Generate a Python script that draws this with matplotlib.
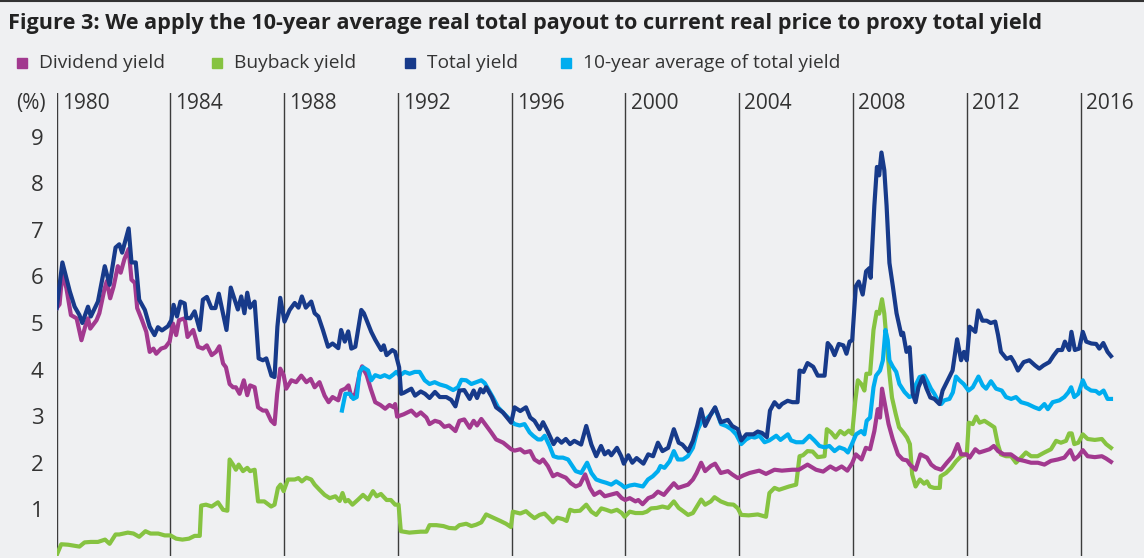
import matplotlib
matplotlib.use("Agg")
import matplotlib.pyplot as plt
from matplotlib.lines import Line2D

# ---- data ----
tot_yr = [1980.0, 1980.2, 1980.46, 1980.63, 1980.8, 1980.9, 1981.1, 1981.2, 1981.45, 1981.69,
          1981.86, 1982.07, 1982.2, 1982.3, 1982.53, 1982.63, 1982.78, 1982.9, 1983.1, 1983.27,
          1983.44, 1983.56, 1983.7, 1983.91, 1984.03, 1984.11, 1984.23, 1984.35, 1984.5, 1984.56,
          1984.7, 1984.85, 1985.03, 1985.14, 1985.28, 1985.44, 1985.58, 1985.7, 1985.97, 1986.12,
          1986.26, 1986.37, 1986.49, 1986.6, 1986.7, 1986.8, 1986.96, 1987.1, 1987.25, 1987.37,
          1987.55, 1987.66, 1987.76, 1987.86, 1988.01, 1988.19, 1988.37, 1988.5, 1988.62, 1988.76,
          1988.95, 1989.07, 1989.2, 1989.36, 1989.54, 1989.7, 1989.9, 1990.0, 1990.13, 1990.25,
          1990.36, 1990.5, 1990.71, 1990.8, 1991.06, 1991.2, 1991.41, 1991.5, 1991.6, 1991.8,
          1991.9, 1992.04, 1992.11, 1992.2, 1992.47, 1992.6, 1992.8, 1992.95, 1993.11, 1993.3,
          1993.47, 1993.7, 1993.87, 1994.02, 1994.16, 1994.33, 1994.52, 1994.66, 1994.78, 1994.9,
          1995.0, 1995.1, 1995.3, 1995.45, 1995.69, 1995.98, 1996.1, 1996.3, 1996.5, 1996.65,
          1996.8, 1996.98, 1997.1, 1997.25, 1997.47, 1997.6, 1997.75, 1997.9, 1998.05, 1998.2,
          1998.44, 1998.62, 1998.8, 1998.97, 1999.14, 1999.27, 1999.4, 1999.5, 1999.7, 1999.85,
          1999.94, 2000.1, 2000.24, 2000.39, 2000.63, 2000.8, 2000.97, 2001.14, 2001.3, 2001.5,
          2001.7, 2001.87, 2002.0, 2002.2, 2002.37, 2002.52, 2002.66, 2002.8, 2003.0, 2003.15,
          2003.35, 2003.6, 2003.75, 2003.95, 2004.07, 2004.25, 2004.5, 2004.65, 2004.8, 2004.97,
          2005.08, 2005.24, 2005.4, 2005.5, 2005.7, 2005.87, 2006.05, 2006.12, 2006.26, 2006.4,
          2006.6, 2006.76, 2007.0, 2007.11, 2007.23, 2007.35, 2007.5, 2007.66, 2007.77, 2007.88,
          2007.97, 2008.1, 2008.2, 2008.34, 2008.46, 2008.58, 2008.62, 2008.75, 2008.84, 2008.92,
          2009.0, 2009.1, 2009.18, 2009.28, 2009.4, 2009.53, 2009.7, 2009.76, 2009.88, 2009.99,
          2010.1, 2010.2, 2010.3, 2010.45, 2010.58, 2010.72, 2010.86, 2011.04, 2011.15, 2011.33,
          2011.5, 2011.66, 2011.8, 2011.9, 2012.0, 2012.1, 2012.3, 2012.4, 2012.55, 2012.7,
          2012.84, 2013.0, 2013.1, 2013.2, 2013.4, 2013.55, 2013.66, 2013.8, 2014.0, 2014.2,
          2014.4, 2014.55, 2014.7, 2014.9, 2015.05, 2015.2, 2015.35, 2015.45, 2015.6, 2015.68,
          2015.8, 2015.95, 2016.08, 2016.2, 2016.38, 2016.55, 2016.66, 2016.8, 2016.95, 2017.07]
tot_val = [5.32, 6.30, 5.68, 5.35, 5.17, 5.00, 5.35, 5.14, 5.46, 6.22,
           5.82, 6.62, 6.69, 6.51, 7.03, 6.30, 6.30, 5.50, 5.28, 4.92,
           4.74, 4.91, 4.84, 4.93, 5.06, 5.39, 5.14, 5.46, 5.42, 5.11,
           5.10, 5.25, 4.85, 5.50, 5.56, 5.32, 5.32, 5.63, 4.85, 5.76,
           5.50, 5.29, 5.57, 5.21, 5.65, 5.33, 5.46, 4.24, 4.20, 4.24,
           3.87, 3.84, 4.92, 5.54, 5.03, 5.28, 5.43, 5.33, 5.57, 5.33,
           5.46, 5.21, 5.14, 4.85, 4.49, 4.56, 4.46, 4.85, 4.60, 4.82,
           4.45, 4.49, 5.28, 5.21, 4.81, 4.64, 4.42, 4.52, 4.31, 4.42,
           4.38, 4.05, 3.48, 3.50, 3.59, 3.44, 3.53, 3.48, 3.39, 3.52,
           3.41, 3.41, 3.35, 3.21, 3.55, 3.56, 3.37, 3.55, 3.39, 3.58,
           3.51, 3.62, 3.41, 3.19, 3.08, 2.86, 3.19, 3.11, 3.19, 2.97,
           2.90, 2.72, 2.87, 2.69, 2.40, 2.52, 2.43, 2.51, 2.40, 2.47,
           2.39, 2.79, 2.39, 2.14, 2.36, 2.18, 2.25, 2.16, 2.32, 2.14,
           1.98, 2.16, 2.00, 2.10, 1.98, 2.18, 2.14, 2.43, 2.25, 2.32,
           2.72, 2.43, 2.39, 2.25, 2.47, 2.79, 3.15, 2.79, 3.04, 3.19,
           2.87, 2.92, 2.79, 2.72, 2.48, 2.61, 2.61, 2.67, 2.64, 2.55,
           3.12, 3.30, 3.19, 3.26, 3.33, 3.30, 3.30, 3.98, 3.95, 4.14,
           4.06, 3.87, 3.87, 4.57, 4.48, 4.31, 4.55, 4.52, 4.34, 4.60,
           4.63, 5.79, 5.89, 5.61, 6.11, 6.18, 5.97, 7.52, 8.35, 8.17,
           8.66, 8.28, 7.52, 6.29, 5.79, 5.21, 4.74, 4.79, 4.38, 4.48,
           3.48, 3.30, 3.62, 3.84, 3.60, 3.40, 3.37, 3.26, 3.55, 3.77,
           3.98, 4.65, 4.20, 4.38, 4.20, 4.92, 4.81, 5.27, 5.05, 5.05,
           5.00, 5.03, 4.74, 4.38, 4.23, 4.27, 4.16, 3.98, 4.16, 4.20,
           4.09, 4.02, 4.09, 4.16, 4.30, 4.42, 4.42, 4.60, 4.42, 4.81,
           4.42, 4.45, 4.81, 4.60, 4.56, 4.55, 4.45, 4.57, 4.38, 4.29]

div_yr = [1980.0, 1980.1, 1980.2, 1980.34, 1980.5, 1980.7, 1980.87, 1981.0, 1981.1, 1981.18,
          1981.4, 1981.5, 1981.67, 1981.76, 1981.88, 1982.0, 1982.15, 1982.25, 1982.38, 1982.53,
          1982.63, 1982.75, 1982.83, 1983.0, 1983.15, 1983.27, 1983.4, 1983.5, 1983.67, 1983.82,
          1983.97, 1984.09, 1984.2, 1984.3, 1984.5, 1984.6, 1984.8, 1984.97, 1985.14, 1985.28,
          1985.45, 1985.6, 1985.72, 1985.85, 1985.95, 1986.08, 1986.2, 1986.3, 1986.43, 1986.58,
          1986.7, 1986.8, 1986.96, 1987.08, 1987.25, 1987.37, 1987.54, 1987.66, 1987.75, 1987.86,
          1987.98, 1988.07, 1988.25, 1988.42, 1988.6, 1988.78, 1988.93, 1989.07, 1989.24, 1989.42,
          1989.56, 1989.7, 1989.9, 1990.0, 1990.15, 1990.26, 1990.36, 1990.5, 1990.65, 1990.74,
          1990.9, 1991.04, 1991.2, 1991.38, 1991.55, 1991.7, 1991.85, 1991.9, 1991.97, 1992.2,
          1992.47, 1992.65, 1992.8, 1993.0, 1993.11, 1993.3, 1993.47, 1993.63, 1993.8, 1994.02,
          1994.16, 1994.33, 1994.52, 1994.66, 1994.78, 1994.93, 1995.1, 1995.28, 1995.45, 1995.7,
          1995.98, 1996.1, 1996.3, 1996.45, 1996.65, 1996.8, 1996.98, 1997.1, 1997.27, 1997.45,
          1997.6, 1997.78, 1997.9, 1998.08, 1998.25, 1998.4, 1998.58, 1998.75, 1998.9, 1999.1,
          1999.27, 1999.45, 1999.7, 1999.87, 1999.99, 2000.15, 2000.35, 2000.45, 2000.6, 2000.8,
          2000.97, 2001.14, 2001.35, 2001.5, 2001.7, 2001.85, 2002.0, 2002.2, 2002.37, 2002.5,
          2002.66, 2002.8, 2003.0, 2003.15, 2003.35, 2003.6, 2003.75, 2003.95, 2004.15, 2004.36,
          2004.7, 2004.94, 2005.24, 2005.5, 2005.87, 2006.1, 2006.4, 2006.7, 2006.95, 2007.2,
          2007.4, 2007.6, 2007.8, 2007.97, 2008.1, 2008.3, 2008.45, 2008.6, 2008.75, 2008.87,
          2008.95, 2009.02, 2009.12, 2009.25, 2009.4, 2009.58, 2009.75, 2009.9, 2010.0, 2010.2,
          2010.37, 2010.5, 2010.6, 2010.75, 2010.9, 2011.1, 2011.3, 2011.5, 2011.68, 2011.8,
          2012.0, 2012.1, 2012.3, 2012.44, 2012.6, 2012.8, 2012.95, 2013.1, 2013.3, 2013.55,
          2013.8, 2014.02, 2014.26, 2014.5, 2014.73, 2014.96, 2015.2, 2015.43, 2015.64, 2015.78,
          2015.92, 2016.08, 2016.25, 2016.5, 2016.75, 2016.9, 2017.07]
div_val = [5.32, 5.40, 6.08, 5.75, 5.17, 5.10, 4.63, 4.92, 5.10, 4.88,
           5.06, 5.21, 5.70, 5.90, 5.53, 5.78, 6.22, 6.08, 6.37, 6.59,
           5.93, 5.86, 5.32, 5.06, 4.81, 4.38, 4.45, 4.34, 4.45, 4.48,
           4.60, 4.99, 4.74, 5.06, 5.10, 4.70, 4.85, 4.49, 4.45, 4.52,
           4.31, 4.38, 4.50, 4.13, 4.05, 3.69, 3.62, 3.62, 3.48, 3.77,
           3.45, 3.66, 3.62, 3.19, 3.12, 3.12, 2.90, 2.83, 3.48, 4.02,
           3.88, 3.59, 3.77, 3.73, 3.87, 3.73, 3.80, 3.62, 3.73, 3.44,
           3.30, 3.41, 3.34, 3.55, 3.59, 3.66, 3.41, 3.48, 3.91, 4.07,
           3.88, 3.59, 3.30, 3.24, 3.16, 3.24, 3.19, 3.26, 2.99, 3.04,
           3.12, 3.01, 3.08, 2.97, 2.83, 2.90, 2.87, 2.77, 2.80, 2.68,
           2.90, 2.93, 2.75, 2.90, 2.80, 2.94, 2.80, 2.65, 2.50, 2.43,
           2.29, 2.26, 2.29, 2.22, 2.25, 2.07, 2.00, 2.07, 1.93, 1.71,
           1.76, 1.71, 1.68, 1.56, 1.49, 1.53, 1.75, 1.46, 1.31, 1.38,
           1.28, 1.31, 1.35, 1.24, 1.20, 1.24, 1.17, 1.20, 1.11, 1.24,
           1.28, 1.38, 1.31, 1.42, 1.56, 1.46, 1.49, 1.53, 1.64, 1.78,
           2.00, 1.82, 1.93, 1.98, 1.78, 1.82, 1.75, 1.67, 1.73, 1.78,
           1.83, 1.76, 1.85, 1.83, 1.85, 1.85, 1.96, 1.85, 1.81, 1.92,
           1.85, 1.92, 1.83, 1.99, 2.18, 2.07, 2.32, 2.29, 2.68, 3.15,
           2.97, 3.59, 3.26, 2.83, 2.50, 2.18, 2.07, 2.05, 1.96, 1.85,
           2.18, 2.14, 2.11, 1.96, 1.89, 1.85, 2.00, 2.14, 2.40, 2.18,
           2.18, 2.11, 2.29, 2.22, 2.25, 2.29, 2.36, 2.25, 2.18, 2.18,
           2.07, 2.04, 2.00, 2.00, 1.96, 2.04, 2.07, 2.11, 2.27, 2.07,
           2.14, 2.27, 2.14, 2.12, 2.14, 2.09, 2.02]

bb_yr = [1980.0, 1980.16, 1980.4, 1980.8, 1980.98, 1981.2, 1981.45, 1981.7, 1981.86, 1982.07,
         1982.2, 1982.5, 1982.7, 1982.9, 1983.12, 1983.3, 1983.57, 1983.8, 1984.0, 1984.2,
         1984.42, 1984.65, 1984.85, 1985.03, 1985.08, 1985.25, 1985.45, 1985.67, 1985.85, 1986.0,
         1986.08, 1986.2, 1986.3, 1986.4, 1986.55, 1986.7, 1986.8, 1986.96, 1987.08, 1987.3,
         1987.54, 1987.66, 1987.78, 1987.87, 1987.98, 1988.13, 1988.37, 1988.5, 1988.62, 1988.78,
         1988.95, 1989.07, 1989.24, 1989.42, 1989.6, 1989.8, 1989.95, 1990.05, 1990.15, 1990.25,
         1990.4, 1990.6, 1990.77, 1990.95, 1991.12, 1991.25, 1991.4, 1991.6, 1991.75, 1991.9,
         1992.02, 1992.1, 1992.4, 1992.8, 1993.0, 1993.11, 1993.35, 1993.6, 1993.8, 1994.02,
         1994.16, 1994.4, 1994.58, 1994.75, 1994.93, 1995.1, 1995.35, 1995.6, 1995.8, 1995.97,
         1996.04, 1996.3, 1996.5, 1996.65, 1996.8, 1996.98, 1997.15, 1997.3, 1997.45, 1997.6,
         1997.8, 1997.93, 1998.05, 1998.2, 1998.4, 1998.62, 1998.8, 1998.97, 1999.15, 1999.32,
         1999.5, 1999.7, 1999.87, 1999.97, 2000.15, 2000.35, 2000.6, 2000.75, 2000.9, 2001.1,
         2001.3, 2001.5, 2001.7, 2001.87, 2002.05, 2002.2, 2002.37, 2002.55, 2002.66, 2002.8,
         2003.0, 2003.13, 2003.35, 2003.6, 2003.8, 2003.95, 2004.07, 2004.33, 2004.65, 2004.94,
         2005.06, 2005.24, 2005.4, 2005.6, 2005.75, 2006.0, 2006.12, 2006.24, 2006.4, 2006.58,
         2006.76, 2007.0, 2007.08, 2007.23, 2007.38, 2007.55, 2007.7, 2007.85, 2007.97, 2008.08,
         2008.17, 2008.29, 2008.4, 2008.47, 2008.6, 2008.72, 2008.83, 2008.92, 2009.02, 2009.1,
         2009.18, 2009.28, 2009.37, 2009.5, 2009.62, 2009.77, 2009.9, 2010.0, 2010.08, 2010.2,
         2010.35, 2010.5, 2010.6, 2010.7, 2010.85, 2011.05, 2011.08, 2011.27, 2011.45, 2011.62,
         2011.8, 2012.0, 2012.07, 2012.21, 2012.33, 2012.45, 2012.62, 2012.8, 2012.97, 2013.09,
         2013.2, 2013.38, 2013.56, 2013.73, 2013.91, 2014.08, 2014.26, 2014.49, 2014.73, 2014.96,
         2015.14, 2015.31, 2015.49, 2015.6, 2015.69, 2015.78, 2015.92, 2016.08, 2016.25, 2016.5,
         2016.75, 2016.9, 2017.07]
bb_val = [0.02, 0.25, 0.24, 0.20, 0.29, 0.30, 0.30, 0.35, 0.26, 0.46,
          0.46, 0.50, 0.48, 0.41, 0.53, 0.48, 0.48, 0.44, 0.44, 0.37,
          0.35, 0.37, 0.43, 0.43, 1.08, 1.10, 1.06, 1.15, 0.99, 0.97,
          2.07, 1.96, 1.85, 1.96, 1.82, 1.89, 1.82, 1.85, 1.17, 1.17,
          1.06, 1.10, 1.46, 1.53, 1.39, 1.64, 1.64, 1.67, 1.60, 1.68,
          1.64, 1.53, 1.42, 1.31, 1.24, 1.28, 1.18, 1.35, 1.17, 1.20,
          1.10, 1.21, 1.31, 1.21, 1.39, 1.28, 1.33, 1.20, 1.20, 1.10,
          1.10, 0.53, 0.50, 0.52, 0.52, 0.66, 0.66, 0.64, 0.60, 0.59,
          0.66, 0.69, 0.64, 0.67, 0.72, 0.89, 0.82, 0.75, 0.69, 0.62,
          0.95, 0.91, 0.96, 0.88, 0.81, 0.88, 0.91, 0.82, 0.72, 0.82,
          0.79, 0.75, 0.99, 0.96, 0.97, 1.10, 0.95, 0.88, 1.02, 0.99,
          0.95, 0.99, 0.92, 0.84, 0.95, 0.92, 0.92, 0.95, 1.02, 1.03,
          1.06, 1.03, 1.17, 1.03, 0.95, 0.88, 0.92, 1.10, 1.21, 1.10,
          1.17, 1.26, 1.17, 1.11, 1.10, 1.02, 0.88, 0.87, 0.89, 0.84,
          1.35, 1.46, 1.42, 1.46, 1.49, 1.53, 2.14, 2.16, 2.25, 2.24,
          2.12, 2.14, 2.72, 2.65, 2.54, 2.68, 2.61, 2.69, 2.62, 3.33,
          3.77, 3.69, 3.55, 3.91, 3.91, 4.85, 5.24, 5.20, 5.51, 5.20,
          4.63, 3.91, 3.40, 3.05, 2.76, 2.65, 2.54, 2.40, 1.75, 1.49,
          1.64, 1.55, 1.60, 1.49, 1.46, 1.46, 1.71, 1.78, 1.89, 2.03,
          2.14, 2.18, 2.86, 2.83, 2.99, 2.86, 2.90, 2.83, 2.76, 2.40,
          2.18, 2.14, 2.14, 2.00, 2.11, 2.22, 2.14, 2.14, 2.22, 2.29,
          2.47, 2.43, 2.47, 2.63, 2.63, 2.40, 2.43, 2.61, 2.51, 2.49,
          2.51, 2.40, 2.32]

avg_yr = [1990.03, 1990.15, 1990.3, 1990.43, 1990.55, 1990.65, 1990.77, 1990.95, 1991.06, 1991.2,
          1991.38, 1991.53, 1991.7, 1991.85, 1991.94, 1992.06, 1992.24, 1992.41, 1992.59, 1992.76,
          1992.94, 1993.11, 1993.29, 1993.47, 1993.7, 1993.94, 1994.11, 1994.23, 1994.4, 1994.58,
          1994.76, 1994.93, 1995.05, 1995.2, 1995.34, 1995.52, 1995.69, 1995.93, 1996.1, 1996.28,
          1996.45, 1996.63, 1996.75, 1996.92, 1997.04, 1997.16, 1997.33, 1997.47, 1997.63, 1997.8,
          1997.98, 1998.1, 1998.25, 1998.44, 1998.65, 1998.8, 1998.97, 1999.15, 1999.32, 1999.5,
          1999.67, 1999.85, 1999.97, 2000.14, 2000.32, 2000.61, 2000.79, 2000.96, 2001.14, 2001.23,
          2001.37, 2001.55, 2001.7, 2001.84, 2002.02, 2002.19, 2002.37, 2002.52, 2002.68, 2002.84,
          2003.01, 2003.15, 2003.36, 2003.54, 2003.72, 2003.89, 2004.07, 2004.24, 2004.42, 2004.54,
          2004.71, 2004.89, 2005.06, 2005.3, 2005.45, 2005.71, 2005.82, 2006.0, 2006.24, 2006.47,
          2006.64, 2006.82, 2007.0, 2007.17, 2007.35, 2007.52, 2007.7, 2007.82, 2007.93, 2008.11,
          2008.29, 2008.4, 2008.48, 2008.6, 2008.72, 2008.81, 2008.95, 2009.05, 2009.14, 2009.22,
          2009.28, 2009.4, 2009.52, 2009.63, 2009.81, 2009.98, 2010.1, 2010.22, 2010.34, 2010.51,
          2010.63, 2010.74, 2010.86, 2010.98, 2011.1, 2011.21, 2011.39, 2011.51, 2011.62, 2011.74,
          2011.89, 2012.06, 2012.21, 2012.41, 2012.56, 2012.68, 2012.85, 2013.03, 2013.23, 2013.38,
          2013.56, 2013.73, 2013.91, 2014.14, 2014.38, 2014.55, 2014.73, 2014.85, 2015.02, 2015.26,
          2015.43, 2015.57, 2015.67, 2015.78, 2015.92, 2016.08, 2016.19, 2016.37, 2016.54, 2016.66,
          2016.81, 2016.95, 2017.07]
avg_val = [3.12, 3.48, 3.48, 3.37, 3.41, 3.95, 4.05, 3.98, 3.77, 3.88,
           3.84, 3.88, 3.83, 3.90, 3.95, 3.87, 3.95, 3.91, 3.95, 3.95,
           3.77, 3.69, 3.73, 3.68, 3.64, 3.56, 3.62, 3.78, 3.77, 3.69,
           3.73, 3.77, 3.71, 3.55, 3.40, 3.19, 3.08, 2.93, 2.83, 2.80,
           2.83, 2.65, 2.58, 2.50, 2.50, 2.58, 2.36, 2.14, 2.11, 2.11,
           2.07, 1.96, 1.82, 1.78, 2.00, 1.78, 1.64, 1.60, 1.57, 1.53,
           1.60, 1.53, 1.47, 1.51, 1.53, 1.49, 1.64, 1.71, 1.82, 1.93,
           1.89, 2.03, 2.25, 2.07, 2.07, 2.14, 2.32, 2.68, 2.90, 2.94,
           3.04, 3.18, 2.83, 2.79, 2.72, 2.61, 2.40, 2.50, 2.56, 2.54,
           2.58, 2.44, 2.48, 2.58, 2.49, 2.61, 2.48, 2.44, 2.44, 2.58,
           2.48, 2.36, 2.33, 2.36, 2.25, 2.33, 2.29, 2.22, 2.36, 2.61,
           2.68, 2.61, 2.90, 2.97, 3.62, 3.87, 3.98, 4.20, 4.85, 4.63,
           4.20, 4.06, 3.95, 3.69, 3.52, 3.41, 3.44, 3.69, 3.84, 3.87,
           3.73, 3.59, 3.48, 3.34, 3.26, 3.34, 3.37, 3.51, 3.85, 3.77,
           3.69, 3.55, 3.62, 3.85, 3.66, 3.59, 3.75, 3.59, 3.55, 3.41,
           3.37, 3.41, 3.30, 3.26, 3.19, 3.15, 3.26, 3.15, 3.30, 3.34,
           3.41, 3.51, 3.62, 3.41, 3.48, 3.77, 3.62, 3.55, 3.54, 3.48,
           3.55, 3.37, 3.37]

decades = [1980, 1984, 1988, 1992, 1996, 2000, 2004, 2008, 2012, 2016]
y_ticks = [1, 2, 3, 4, 5, 6, 7, 8, 9]

c_div = '#a2398f'
c_bb = '#86c341'
c_tot = '#173a8a'
c_avg = '#00adef'
bg = '#eff0f2'
txt = '#333333'

plt.rcParams['font.family'] = ['Open Sans', 'DejaVu Sans']

W, H = 1144, 558
fig = plt.figure(figsize=(W / 100, H / 100), dpi=100)
fig.patch.set_facecolor(bg)

# axes box in pixel terms: x 1980 at 56.7px, 28.44 px per year; y=0 at 555.9px, 46.58 px per unit
x0, top, y0 = 56.7, 93.0, 555.9
ax = fig.add_axes([x0 / W, (H - y0) / H, (W - x0) / W, (y0 - top) / H])
ax.set_facecolor(bg)
ax.set_xlim(1980, 1980 + (W - x0) / 28.44)
ax.set_ylim(0, (y0 - top) / 46.58)
for s in ax.spines.values():
    s.set_visible(False)

for yr in decades:
    ax.axvline(yr, color='#3c3c3c', lw=1.0, zorder=1)
    ax.text(yr + 5 / 28.44, (y0 - 103.5) / 46.58, str(yr), fontsize=15,
            color=txt, va='center', ha='left')

lw = 3.0
ax.plot(bb_yr, bb_val, color=c_bb, lw=lw, zorder=3)
ax.plot(div_yr, div_val, color=c_div, lw=lw, zorder=3)
ax.plot(avg_yr, avg_val, color=c_avg, lw=lw, zorder=4)
ax.plot(tot_yr, tot_val, color=c_tot, lw=lw, zorder=5)

ax.set_xticks([])
ax.set_yticks(y_ticks)
ax.set_yticklabels([str(v) for v in y_ticks])
ax.tick_params(axis='y', length=0, pad=9.5, labelsize=16, labelcolor=txt)

fig.text(16 / W, 1 - 103.5 / H, '(%)', fontsize=15, color=txt, va='center', ha='left')

# title
fig.text(8 / W, 1 - 29 / H, 'Figure 3: We apply the 10-year average real total payout to '
         'current real price to proxy total yield', fontsize=15.6, fontweight='bold',
         color='#222222', va='baseline', ha='left')

# legend
leg = [('Dividend yield', c_div, 22), ('Buyback yield', c_bb, 217),
       ('Total yield', c_tot, 410), ('10-year average of total yield', c_avg, 566)]
for label, col, xs in leg:
    fig.add_artist(Line2D([xs / W], [1 - 63 / H], marker='s', markersize=7.5,
                          color=col, transform=fig.transFigure))
    fig.text((xs + 17) / W, 1 - 63 / H, label, fontsize=13.8, color=txt,
             va='center', ha='left')

# thin rule at the very top
fig.add_artist(Line2D([0, 1], [1 - 0.8 / H, 1 - 0.8 / H], color='#333333', lw=1.5,
                      transform=fig.transFigure))

fig.savefig('out.png', dpi=100, facecolor=bg)
